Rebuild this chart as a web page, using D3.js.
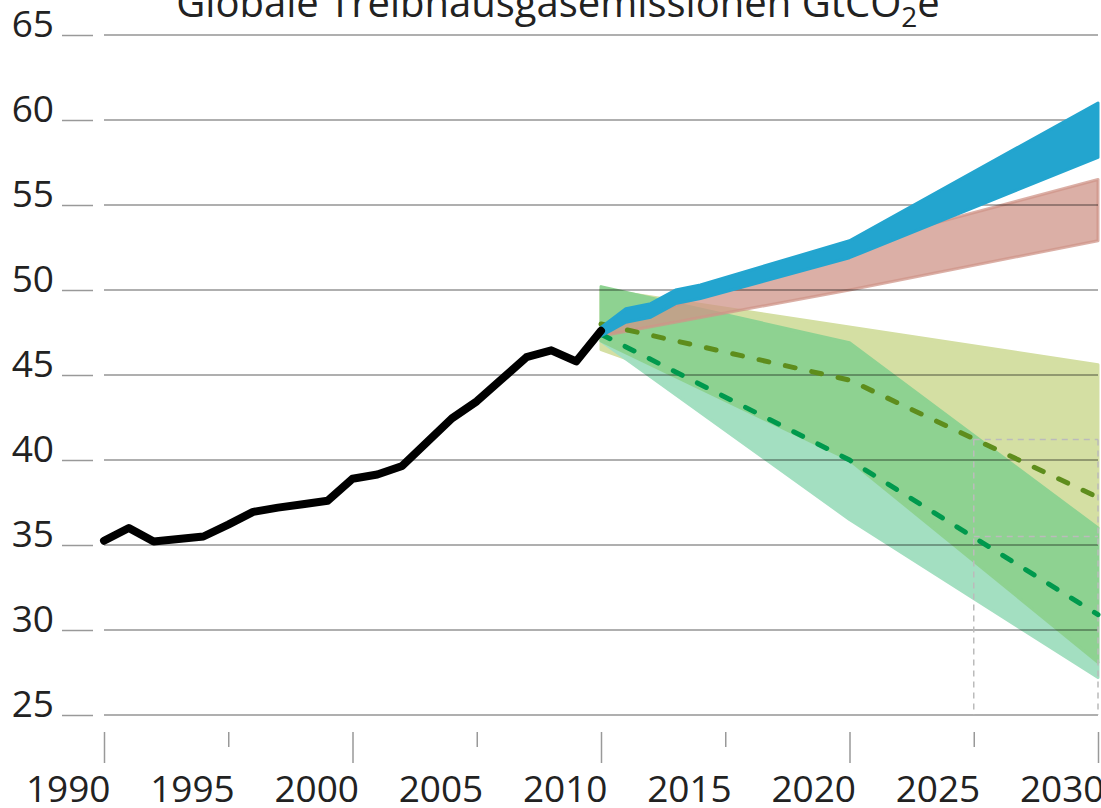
<!DOCTYPE html>
<html>
<head>
<meta charset="utf-8">
<script src="https://cdn.jsdelivr.net/npm/d3@7"></script>
<style>
  body { margin: 0; background: #fff; }
  text { font-family: "Open Sans", sans-serif; fill: #222; }
</style>
</head>
<body>
<div id="chart"></div>
<script>
// Width and height
var chart_width  = 1101;
var chart_height = 808;

// historical emissions
var hist_years = [1990,1991,1992,1993,1994,1995,1996,1997,1998,1999,2000,
                  2001,2002,2003,2004,2005,2006,2007,2008,2009,2010];
var hist_vals  = [35.25,36.0,35.2,35.35,35.5,36.2,36.95,37.2,37.4,37.6,38.9,
                  39.15,39.65,41.05,42.45,43.45,44.75,46.05,46.45,45.8,47.6];

// baseline (blue band)
var blue_years = [2010,2011,2012,2013,2014,2020,2030];
var blue_high  = [47.8,48.9,49.2,50.0,50.3,52.9,61.0];
var blue_low   = [47.3,48.1,48.4,49.2,49.5,51.9,57.8];

// current policy (red band)
var red_years = [2010,2020,2030];
var red_high  = [47.6,52.6,56.5];
var red_low   = [47.3,50.0,52.9];

// ranges
var yellow_years = [2010,2030];
var yellow_high  = [50.05,45.6];
var yellow_low   = [46.5,36.0];

var green_years = [2010,2020,2030];
var green_high  = [50.2,46.9,36.0];
var green_low   = [47.0,40.0,28.1];

var teal_years = [2010,2020,2030];
var teal_high  = [47.0,40.0,28.1];
var teal_low   = [47.0,36.5,27.2];

// dashed medians
var olive_years = [2010,2020,2030];
var olive_vals  = [48.0,44.7,37.8];
var gdash_years = [2010,2020,2030];
var gdash_vals  = [47.4,40.0,30.9];

// reference markers
var ref_year = 2025;
var ref_end  = 2030;
var ref_vals = [41.2,35.5];

var y_ticks = [25,30,35,40,45,50,55,60,65];
var x_ticks = [1990,1995,2000,2005,2010,2015,2020,2025,2030];

var x = d3.scaleLinear().domain([1990, 2030]).range([104, 1098]);
var y = d3.scaleLinear().domain([25, 65]).range([715, 35]);

var svg = d3.select("#chart")
  .append("svg")
  .attr("width", chart_width)
  .attr("height", chart_height);

function band(years, hi, lo){
  var pts = years.map(function(d, i){ return [x(d), y(hi[i])]; });
  var back = years.map(function(d, i){ return [x(d), y(lo[i])]; }).reverse();
  return "M" + pts.concat(back).join("L") + "Z";
}

function drawBand(years, hi, lo, color, opacity){
  svg.append("path")
    .attr("d", band(years, hi, lo))
    .attr("fill", color)
    .attr("fill-opacity", opacity)
    .attr("stroke", color)
    .attr("stroke-opacity", opacity)
    .attr("stroke-width", 3)
    .attr("stroke-linejoin", "round");
}

drawBand(yellow_years, yellow_high, yellow_low, "#d4dfa3", 1);
drawBand(teal_years, teal_high, teal_low, "#a3dfc1", 1);
drawBand(green_years, green_high, green_low, "#8ed291", 1);
drawBand(red_years, red_high, red_low, "#cf9488", 0.75);

// gridlines
svg.append("g").selectAll("line")
  .data(y_ticks)
  .enter()
  .append("line")
  .attr("x1", x(1990))
  .attr("x2", x(2030))
  .attr("y1", function(d){ return y(d); })
  .attr("y2", function(d){ return y(d); })
  .attr("stroke", "#000")
  .attr("stroke-opacity", 0.42)
  .attr("stroke-width", 1.5);

// y axis: labels + short ticks
var yAxis = svg.append("g")
  .attr("transform", "translate(93,0)")
  .call(d3.axisLeft(y).tickValues(y_ticks).tickSize(31).tickPadding(8));
yAxis.select(".domain").remove();
yAxis.selectAll(".tick line").attr("stroke", "#999").attr("stroke-width", 1.5);
yAxis.selectAll(".tick text")
  .attr("dy", "0.05em")
  .attr("fill", "#222")
  .style("font-size", "37px")
  .style("font-family", "'Open Sans', sans-serif");

// reference dashed markers
var ref = svg.append("g")
  .attr("stroke", "#bbb")
  .attr("stroke-width", 1.5)
  .attr("stroke-dasharray", "6,5");
ref_vals.forEach(function(v){
  ref.append("line")
    .attr("x1", x(ref_year)).attr("x2", x(ref_end))
    .attr("y1", y(v)).attr("y2", y(v));
});
[ref_year, ref_end].forEach(function(yr){
  ref.append("line")
    .attr("x1", x(yr)).attr("x2", x(yr))
    .attr("y1", y(ref_vals[0])).attr("y2", y(25));
});

// dashed lines
var line = d3.line()
  .x(function(d){ return x(d[0]); })
  .y(function(d){ return y(d[1]); });

svg.append("path")
  .datum(olive_years.map(function(d, i){ return [d, olive_vals[i]]; }))
  .attr("d", line)
  .attr("fill", "none")
  .attr("stroke", "#5e8d1c")
  .attr("stroke-width", 5)
  .attr("stroke-linecap", "round")
  .attr("stroke-dasharray", "10,17");

svg.append("path")
  .datum(gdash_years.map(function(d, i){ return [d, gdash_vals[i]]; }))
  .attr("d", line)
  .attr("fill", "none")
  .attr("stroke", "#00994d")
  .attr("stroke-width", 5)
  .attr("stroke-linecap", "round")
  .attr("stroke-dasharray", "10,17");

// blue band on top
drawBand(blue_years, blue_high, blue_low, "#23a5cf", 1);

// historical line
svg.append("path")
  .datum(hist_years.map(function(d, i){ return [d, hist_vals[i]]; }))
  .attr("d", line)
  .attr("fill", "none")
  .attr("stroke", "#000")
  .attr("stroke-width", 8)
  .attr("stroke-linejoin", "round")
  .attr("stroke-linecap", "round");

// x axis
var xAxis = svg.append("g")
  .attr("transform", "translate(0,732)")
  .call(d3.axisBottom(x).tickValues(x_ticks).tickSize(31).tickFormat(d3.format("d")));
xAxis.select(".domain").remove();
xAxis.selectAll(".tick line")
  .attr("stroke", "#999")
  .attr("stroke-width", 1.5)
  .attr("y2", function(d){ return d % 10 === 0 ? 31 : 15; });
xAxis.selectAll(".tick text")
  .attr("text-anchor", "end")
  .attr("x", 6)
  .attr("y", 70)
  .attr("dy", 0)
  .attr("fill", "#222")
  .style("font-size", "37px")
  .style("font-family", "'Open Sans', sans-serif");

// title
var title = svg.append("text")
  .attr("x", 558)
  .attr("y", 17)
  .attr("text-anchor", "middle")
  .style("font-size", "40px");
title.append("tspan").text("Globale Treibhausgasemissionen GtCO");
title.append("tspan").attr("dy", 10).style("font-size", "28px").text("2");
title.append("tspan").attr("dy", -10).text("e");
</script>
</body>
</html>
